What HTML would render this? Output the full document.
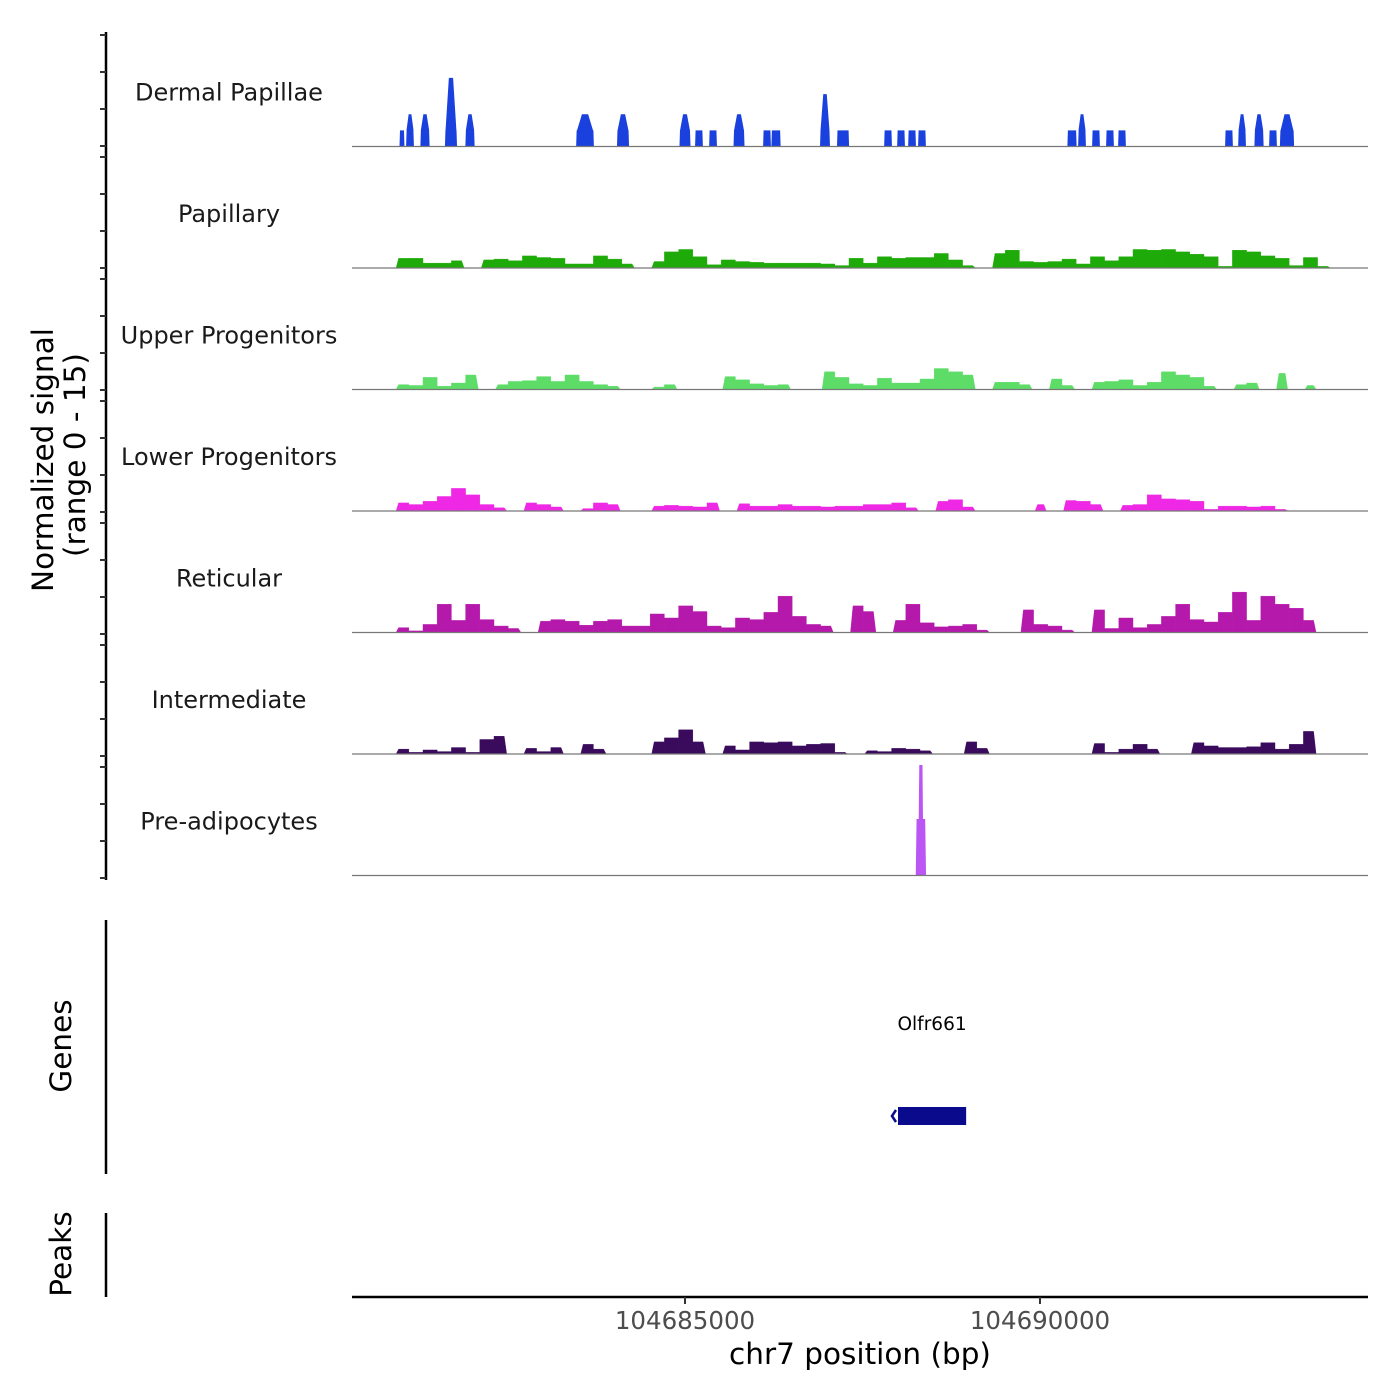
<!DOCTYPE html>
<html><head><meta charset="utf-8"><style>
body{margin:0;background:#fff}
svg{display:block;font-family:"DejaVu Sans","Liberation Sans",sans-serif}
</style></head><body>
<svg id="chart" width="1400" height="1400" viewBox="0 0 1400 1400" xmlns="http://www.w3.org/2000/svg">
<rect width="1400" height="1400" fill="#fff"/>
<g id="tracks"></g>
<g id="yaxis"></g>
<text transform="translate(53,460) rotate(-90)" text-anchor="middle" font-size="29.5" fill="#000">Normalized signal</text>
<text transform="translate(85,455) rotate(-90)" text-anchor="middle" font-size="29.5" fill="#000">(range 0 - 15)</text>
<line x1="106" y1="920" x2="106" y2="1174" stroke="#000" stroke-width="2.5"/>
<text transform="translate(71,1046) rotate(-90)" text-anchor="middle" font-size="29.5" fill="#000">Genes</text>
<line x1="106" y1="1213" x2="106" y2="1297" stroke="#000" stroke-width="2.5"/>
<text transform="translate(71,1254) rotate(-90)" text-anchor="middle" font-size="29.5" fill="#000">Peaks</text>
<g id="genes"></g>
<g id="xaxis"></g>
<text x="860" y="1364" text-anchor="middle" font-size="29.5" fill="#000">chr7 position (bp)</text>
</svg>
<script>
const regionStart = 104680310;
const regionEnd = 104694620;
const binSize = 200;
const trackNames = ["Dermal Papillae","Papillary","Upper Progenitors","Lower Progenitors","Reticular","Intermediate","Pre-adipocytes"];
const trackColors = ["#1a40dd","#1eaa08","#5ddc68","#ee28e4","#b519ab","#3a0a5c","#bb55f4"];
const xTicks = [104685000, 104690000];
const xTickLabels = ["104685000","104690000"];
// Dermal Papillae peaks: centre offset from regionStart (bp), width (bp), value
const dermalCenter = [704,817,1028,1394,1662,3282,3817,4690,4887,5085,5451,5845,5972,6662,6916,7550,7733,7888,8028,10141,10282,10479,10676,10845,12352,12536,12775,12972,13169];
const dermalWidth = [70,110,130,170,130,250,170,155,110,110,155,110,130,140,170,110,110,110,110,130,110,110,110,110,110,110,130,110,200];
const dermalValue = [2,4,4,8.5,4,4,4,4,2,2,4,2,2,6.5,2,2,2,2,2,2,4,2,2,2,2,4,4,2,4];
// binned values (200bp bins from regionStart), index:value
const papillaryBins = {3:1.2,4:1.2,5:0.6,6:0.6,7:0.9,9:1,10:1.1,11:0.9,12:1.5,13:1.3,14:1.2,15:0.5,16:0.5,17:1.5,18:1.1,19:0.5,21:0.8,22:2,23:2.3,24:1.4,25:0.4,26:1,27:0.8,28:0.7,29:0.6,30:0.6,31:0.6,32:0.6,33:0.5,34:0.3,35:1.2,36:0.6,37:1.4,38:1.2,39:1.3,40:1.3,41:1.8,42:1,43:0.3,45:1.8,46:2.2,47:0.8,48:0.7,49:0.8,50:1.1,51:0.5,52:1.4,53:0.9,54:1.4,55:2.3,56:2.2,57:2.3,58:2,59:1.7,60:1.4,61:0.2,62:2.2,63:2,64:1.5,65:1.2,66:0.3,67:1.3,68:0.2};
const upperBins = {3:0.6,4:0.5,5:1.5,6:0.4,7:0.8,8:1.8,10:0.6,11:1,12:1.1,13:1.6,14:1,15:1.8,16:1,17:0.6,18:0.4,21:0.3,22:0.6,26:1.6,27:1.2,28:0.7,29:0.5,30:0.6,33:2.2,34:1.5,35:0.7,36:0.5,37:1.4,38:0.8,39:0.8,40:1.3,41:2.6,42:2.2,43:1.8,45:0.9,46:0.9,47:0.6,49:1.3,50:0.5,52:0.9,53:1,54:1.2,55:0.5,56:0.9,57:2.2,58:1.8,59:1.5,60:0.4,62:0.6,63:0.8,65:2,67:0.5};
const lowerBins = {3:1,4:0.8,5:1.2,6:1.8,7:2.8,8:2,9:0.8,10:0.4,12:1,13:0.8,14:0.5,16:0.3,17:1,18:0.8,21:0.6,22:0.7,23:0.6,24:0.5,25:1,27:0.9,28:0.6,29:0.6,30:0.8,31:0.6,32:0.6,33:0.5,34:0.6,35:0.6,36:0.8,37:0.8,38:1,39:0.4,41:1.2,42:1.4,43:0.5,48:0.8,50:1.3,51:1.2,52:0.8,54:0.7,55:0.8,56:2,57:1.5,58:1.4,59:1.2,60:0.2,61:0.6,62:0.6,63:0.5,64:0.6,65:0.2};
const reticularBins = {3:0.6,4:0.2,5:1,6:3.5,7:1.5,8:3.5,9:1.6,10:0.8,11:0.5,13:1.4,14:1.6,15:1.4,16:0.9,17:1.4,18:1.6,19:0.8,20:0.8,21:2.3,22:1.8,23:3.3,24:2.6,25:0.8,26:0.6,27:1.8,28:1.6,29:2.5,30:4.5,31:2,32:1,33:0.8,35:3.3,36:2.6,38:1.5,39:3.5,40:1.2,41:0.7,42:0.8,43:1,44:0.3,47:2.8,48:1,49:0.8,50:0.3,52:2.8,53:0.5,54:1.8,55:0.6,56:1,57:2,58:3.5,59:1.6,60:1.3,61:2.5,62:5,63:1.5,64:4.5,65:3.5,66:3,67:1.5};
const intermediateBins = {3:0.6,4:0.2,5:0.5,6:0.3,7:0.8,8:0.2,9:1.8,10:2.2,12:0.7,13:0.3,14:0.8,16:1.2,17:0.6,21:1.5,22:2,23:3,24:1.5,26:1,27:0.5,28:1.5,29:1.4,30:1.5,31:1,32:1.2,33:1.3,34:0.2,36:0.4,37:0.3,38:0.7,39:0.6,40:0.4,43:1.5,44:0.7,52:1.3,53:0.2,54:0.6,55:1.2,56:0.6,59:1.4,60:1,61:0.8,62:0.8,63:0.9,64:1.4,65:0.6,66:1.2,67:2.8};
const preX = [104688250,104688262,104688292,104688300,104688345,104688352,104688383,104688395];
const preY = [0,7,7,13.7,13.7,7,7,0];
const geneName = "Olfr661";
const geneStart = 104688000;
const geneEnd = 104688960;

const NS="http://www.w3.org/2000/svg";
const X0=352, X1=1368;
function xs(bp){return X0+(bp-regionStart)*(X1-X0)/(regionEnd-regionStart);}
const trackTop0=25, trackH=121.5, unitPx=121/15;
function baseY(i){return trackTop0+trackH*(i+1);}
function ys(i,v){return baseY(i)-v*unitPx;}
function mk(tag,attrs,parent){const e=document.createElementNS(NS,tag);for(const k in attrs)e.setAttribute(k,attrs[k]);parent.appendChild(e);return e;}

const tracks=document.getElementById('tracks');
const binSets=[null,papillaryBins,upperBins,lowerBins,reticularBins,intermediateBins];
for(let i=0;i<7;i++){
  const g=mk('g',{},tracks);
  
  
  const lab=mk('text',{x:229,y:baseY(i)-46,'text-anchor':'middle','font-size':'24',fill:'#1a1a1a'},g);
  lab.textContent=trackNames[i];
  
  
  if(i===0){
    for(let j=0;j<dermalCenter.length;j++){
      const c=regionStart+dermalCenter[j], w=dermalWidth[j], v=dermalValue[j];
      const xa=xs(c-w/2), xb=xs(c+w/2), b=baseY(i), t=ys(i,v);
      const mid=(xa+xb)/2, tw=(xb-xa)*(v>=4?0.35:0.8)/2;
      const sh=ys(i,Math.min(v,2)), sw=(xb-xa)*0.45;
      const pts=[[xa,b],[xa+0.5,sh],[mid-sw,sh],[mid-tw,t],[mid+tw,t],[mid+sw,sh],[xb-0.5,sh],[xb,b]];
      const p=mk('polygon',{points:pts.map(q=>q.join(',')).join(' '),fill:trackColors[i]},g);
      
      
    }
  } else if(i<6){
    const bins=binSets[i];
    for(const k in bins){
      const idx=+k, v=bins[k];
      if(!(v>0))continue;
      const s=regionStart+idx*binSize;
      let xa=xs(s), xb=xs(s+binSize);
      const lz=!(bins[idx-1]>0), rz=!(bins[idx+1]>0);
      const b=baseY(i), t=ys(i,v);
      const pts=[[lz?xa+1.5:xa,b],[lz?xa+4:xa,t],[rz?xb-4:xb,t],[rz?xb-1.5:xb,b]];
      const p=mk('polygon',{points:pts.map(q=>q.join(',')).join(' '),fill:trackColors[i],stroke:trackColors[i],'stroke-width':'0.4'},g);
      
      
    }
  } else {
    const pts=preX.map((x,j)=>xs(x)+','+ys(i,preY[j])).join(' ');
    const p=mk('polygon',{points:pts,fill:trackColors[i]},g);
    
    
  }
  const bl=mk('line',{x1:X0,x2:X1,y1:baseY(i),y2:baseY(i),stroke:'#777','stroke-width':'1.2'},g);
  
  
}

const ya=document.getElementById('yaxis');
mk('line',{x1:106,x2:106,y1:32,y2:880,stroke:'#000','stroke-width':'2.5'},ya);
for(let i=0;i<7;i++){for(let k=0;k<4;k++){
  const y=35+122*i+37*k;
  const t=mk('line',{x1:100,x2:106,y1:y,y2:y,stroke:'#333','stroke-width':'2'},ya);
  
  
}}

const gg=document.getElementById('genes');
const gl=mk('text',{x:(xs(geneStart)+xs(geneEnd))/2,y:1030,'text-anchor':'middle','font-size':'18.5',fill:'#000'},gg);
gl.textContent=geneName;


const gr=mk('rect',{x:xs(geneStart),y:1107,width:xs(geneEnd)-xs(geneStart),height:18,fill:'#0a0a8c'},gg);


const ga=mk('polyline',{points:(xs(geneStart)-2)+',1110 '+(xs(geneStart)-6)+',1116 '+(xs(geneStart)-2)+',1122',fill:'none',stroke:'#0a0a8c','stroke-width':'2.5'},gg);



const xa=document.getElementById('xaxis');
mk('line',{x1:X0,x2:X1,y1:1297,y2:1297,stroke:'#000','stroke-width':'2.5'},xa);
xTicks.forEach((v,j)=>{
  const x=xs(v);
  const t=mk('line',{x1:x,x2:x,y1:1297,y2:1304,stroke:'#333','stroke-width':'2'},xa);
  
  
  const l=mk('text',{x:x,y:1329,'text-anchor':'middle','font-size':'24.5',fill:'#4d4d4d'},xa);
  l.textContent=xTickLabels[j];
  
  
});
</script>
</body></html>
